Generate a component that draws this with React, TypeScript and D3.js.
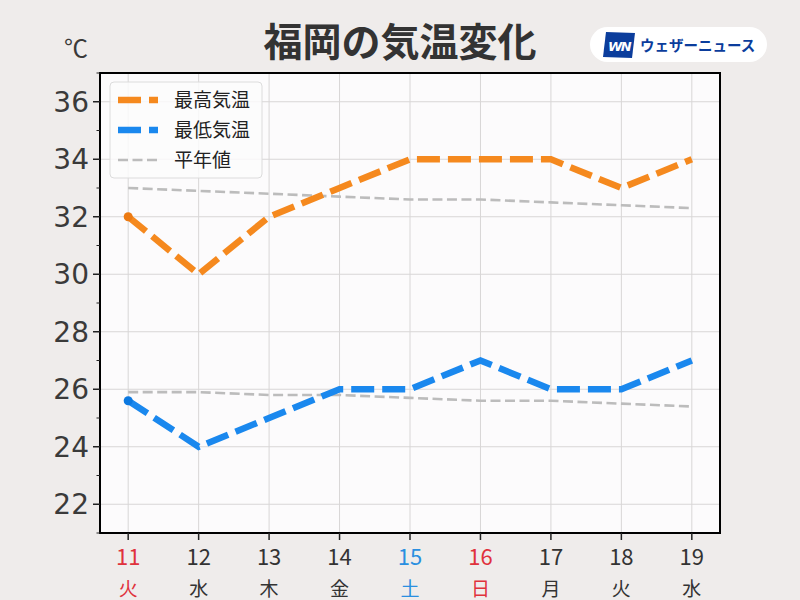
import React, { useEffect, useRef } from "react";
import * as d3 from "d3";

const days = [11, 12, 13, 14, 15, 16, 17, 18, 19];
const weekdays = ["火", "水", "木", "金", "土", "日", "月", "火", "水"];
const dayColors = ["#e0323c", "#333333", "#333333", "#333333", "#2a8fe0", "#e0323c", "#333333", "#333333", "#333333"];
const maxTemp = [32, 30, 32, 33, 34, 34, 34, 33, 34];
const minTemp = [25.6, 24, 25, 26, 26, 27, 26, 26, 27];
const normalMax = [33.0, 32.9, 32.8, 32.7, 32.6, 32.6, 32.5, 32.4, 32.3];
const normalMin = [25.9, 25.9, 25.8, 25.8, 25.7, 25.6, 25.6, 25.5, 25.4];
const yTicks = [22, 24, 26, 28, 30, 32, 34, 36];
const yMinorTicks = [21, 23, 25, 27, 29, 31, 33, 35, 37];

const FONT = "'Noto Sans CJK JP', 'Noto Sans', sans-serif";
const NUM_FONT = "'DejaVu Sans', sans-serif";

const Chart: React.FC = () => {
  const svgRef = useRef<SVGSVGElement | null>(null);

  useEffect(() => {
    const width = 800;
    const height = 600;
    const left = 100, right = 720, top = 73, bottom = 533;

    d3.select(svgRef.current).selectAll("*").remove();
    const svg = d3.select(svgRef.current).attr("width", width).attr("height", height);

    svg.append("rect").attr("width", width).attr("height", height).attr("fill", "#efeceb");

    const x = d3.scaleLinear().domain([10.6, 19.4]).range([left, right]);
    const y = d3.scaleLinear().domain([21, 37]).range([bottom, top]);

    // plot area
    svg.append("rect")
      .attr("x", left).attr("y", top)
      .attr("width", right - left).attr("height", bottom - top)
      .attr("fill", "#fcfbfc");

    // grid
    const grid = svg.append("g").attr("stroke", "#d8d6d6").attr("stroke-width", 1);
    days.forEach((d) => {
      grid.append("line").attr("x1", x(d)).attr("x2", x(d)).attr("y1", top).attr("y2", bottom);
    });
    yTicks.forEach((t) => {
      grid.append("line").attr("x1", left).attr("x2", right).attr("y1", y(t)).attr("y2", y(t));
    });

    // normals
    const line = d3.line<number>().x((_, i) => x(days[i])).y((d) => y(d));
    [normalMax, normalMin].forEach((s) => {
      svg.append("path")
        .datum(s)
        .attr("fill", "none")
        .attr("stroke", "#bcbcbc")
        .attr("stroke-width", 2.6)
        .attr("stroke-dasharray", "10,4.5")
        .attr("d", line);
    });

    // temperatures
    const series = [
      { data: maxTemp, color: "#f5891e", dot: "#ec7a12" },
      { data: minTemp, color: "#1a88ee", dot: "#0b78e0" },
    ];
    series.forEach((s) => {
      svg.append("path")
        .datum(s.data)
        .attr("fill", "none")
        .attr("stroke", s.color)
        .attr("stroke-width", 6.5)
        .attr("stroke-dasharray", "23,8")
        .attr("stroke-linejoin", "miter")
        .attr("d", line);
      svg.append("circle")
        .attr("cx", x(days[0]))
        .attr("cy", y(s.data[0]))
        .attr("r", 4.5)
        .attr("fill", s.dot);
    });

    // frame
    svg.append("rect")
      .attr("x", left).attr("y", top)
      .attr("width", right - left).attr("height", bottom - top)
      .attr("fill", "none").attr("stroke", "#000").attr("stroke-width", 2);

    // y axis
    const yAxis = svg.append("g");
    yTicks.forEach((t) => {
      yAxis.append("line").attr("x1", left - 7).attr("x2", left).attr("y1", y(t)).attr("y2", y(t))
        .attr("stroke", "#222").attr("stroke-width", 1.5);
      yAxis.append("text")
        .attr("x", left - 11).attr("y", y(t))
        .attr("dy", "0.36em")
        .attr("text-anchor", "end")
        .attr("font-family", NUM_FONT)
        .attr("font-size", 28)
        .attr("fill", "#3a3a3a")
        .text(t);
    });
    yMinorTicks.forEach((t) => {
      yAxis.append("line").attr("x1", left - 3.5).attr("x2", left).attr("y1", y(t)).attr("y2", y(t))
        .attr("stroke", "#222").attr("stroke-width", 1);
    });
    svg.append("text")
      .attr("x", 76).attr("y", 57)
      .attr("text-anchor", "middle")
      .attr("font-family", FONT)
      .attr("font-size", 24)
      .attr("fill", "#3a3a3a")
      .text("℃");

    // x axis
    const xAxis = svg.append("g");
    days.forEach((d, i) => {
      xAxis.append("line").attr("x1", x(d)).attr("x2", x(d)).attr("y1", bottom).attr("y2", bottom + 7)
        .attr("stroke", "#222").attr("stroke-width", 1.5);
      xAxis.append("text")
        .attr("x", x(d)).attr("y", 565)
        .attr("text-anchor", "middle")
        .attr("font-family", FONT)
        .attr("font-size", 22)
        .attr("fill", dayColors[i])
        .text(d);
      xAxis.append("text")
        .attr("x", x(d)).attr("y", 596)
        .attr("text-anchor", "middle")
        .attr("font-family", FONT)
        .attr("font-size", 19)
        .attr("fill", dayColors[i])
        .text(weekdays[i]);
    });

    // title
    svg.append("text")
      .attr("x", 400).attr("y", 56)
      .attr("text-anchor", "middle")
      .attr("font-family", FONT)
      .attr("font-weight", "bold")
      .attr("font-size", 39)
      .attr("fill", "#333")
      .text("福岡の気温変化");

    // logo
    const logo = svg.append("g");
    logo.append("rect")
      .attr("x", 590).attr("y", 27).attr("width", 177).attr("height", 35).attr("rx", 17.5)
      .attr("fill", "#ffffff");
    logo.append("path")
      .attr("d", "M606,32 L635,33 L632,58 L603,57 Z")
      .attr("fill", "#0b3d9c");
    logo.append("text")
      .attr("x", 619).attr("y", 51)
      .attr("text-anchor", "middle")
      .attr("font-family", "'DejaVu Sans', sans-serif")
      .attr("font-weight", "bold")
      .attr("font-style", "italic")
      .attr("font-size", 13)
      .attr("letter-spacing", -1.5)
      .attr("fill", "#ffffff")
      .text("WN");
    logo.append("text")
      .attr("x", 640).attr("y", 51)
      .attr("font-family", FONT)
      .attr("font-weight", "bold")
      .attr("font-size", 14.5)
      .attr("fill", "#0b3d9c")
      .text("ウェザーニュース");

    // legend
    const legend = svg.append("g");
    legend.append("rect")
      .attr("x", 110).attr("y", 82).attr("width", 152).attr("height", 96).attr("rx", 4)
      .attr("fill", "#fcfbfc").attr("fill-opacity", 0.85)
      .attr("stroke", "#dcdcdc").attr("stroke-width", 1);
    const items = [
      { label: "最高気温", color: "#f5891e", w: 6.5, dash: "23,8" },
      { label: "最低気温", color: "#1a88ee", w: 6.5, dash: "23,8" },
      { label: "平年値", color: "#bcbcbc", w: 2.6, dash: "10,4.5" },
    ];
    items.forEach((it, i) => {
      const cy = 100 + i * 30;
      legend.append("line")
        .attr("x1", 118).attr("x2", 158).attr("y1", cy).attr("y2", cy)
        .attr("stroke", it.color).attr("stroke-width", it.w).attr("stroke-dasharray", it.dash);
      legend.append("text")
        .attr("x", 174).attr("y", cy)
        .attr("dy", "0.36em")
        .attr("font-family", FONT)
        .attr("font-size", 19)
        .attr("fill", "#222")
        .text(it.label);
    });
  }, []);

  return <svg ref={svgRef} style={{ display: "block", position: "absolute", left: 0, top: 0 }}></svg>;
};

export default function App() {
  return <Chart />;
}
